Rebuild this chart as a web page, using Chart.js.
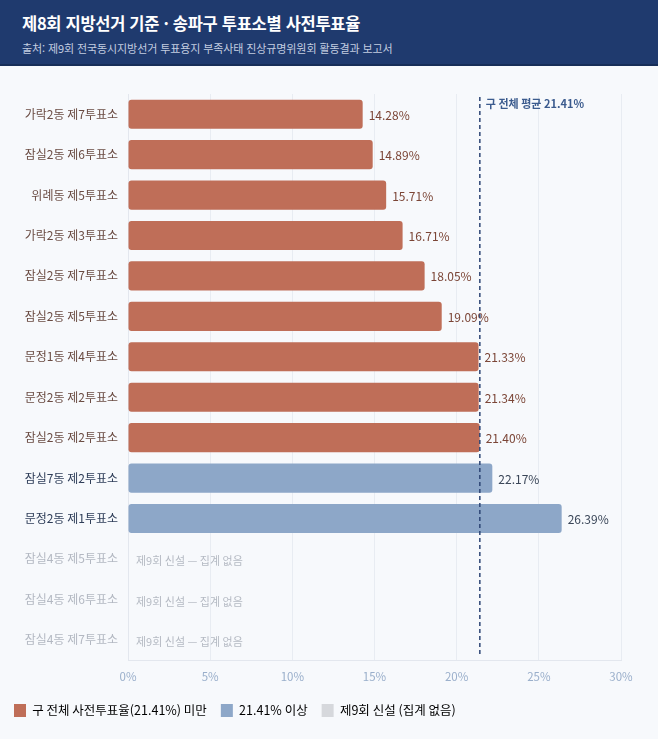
<!DOCTYPE html>
<html lang="ko">
<head>
<meta charset="utf-8">
<script src="https://cdn.jsdelivr.net/npm/chart.js@4"></script>
<style>
  html, body { margin: 0; padding: 0; }
  body {
    width: 658px; height: 739px; overflow: hidden;
    background: #f7f9fc;
    font-family: "Noto Sans CJK KR", "Noto Sans", sans-serif;
  }
  .head {
    height: 64px; background: #1f3a6e;
    border-bottom: 2px solid #172e58;
    position: relative;
  }
  .head h1 {
    position: absolute; left: 22px; top: 11px; margin: 0;
    font-size: 16.5px; font-weight: 700; color: #fff; letter-spacing: -0.3px;
  }
  .head p {
    position: absolute; left: 22px; top: 40px; margin: 0;
    font-size: 11px; color: #c3cde0; letter-spacing: -0.1px;
  }
  .wrap { position: absolute; left: 0; top: 66px; width: 658px; height: 673px; }
</style>
</head>
<body>
<div class="head">
  <h1>제8회 지방선거 기준 · 송파구 투표소별 사전투표율</h1>
  <p>출처: 제9회 전국동시지방선거 투표용지 부족사태 진상규명위원회 활동결과 보고서</p>
</div>
<div class="wrap"><canvas id="chart"></canvas></div>
<script>
// 투표소 목록 (위에서 아래 순서)
const stations = [
  '가락2동 제7투표소', '잠실2동 제6투표소', '위례동 제5투표소', '가락2동 제3투표소',
  '잠실2동 제7투표소', '잠실2동 제5투표소', '문정1동 제4투표소', '문정2동 제2투표소',
  '잠실2동 제2투표소', '잠실7동 제2투표소', '문정2동 제1투표소',
  '잠실4동 제5투표소', '잠실4동 제6투표소', '잠실4동 제7투표소'
];
// 사전투표율(%) — null = 제9회 신설, 집계 없음
const rates = [14.28, 14.89, 15.71, 16.71, 18.05, 19.09, 21.33, 21.34, 21.40, 22.17, 26.39, null, null, null];
const avgRate = 21.41;
const xTicks = [0, 5, 10, 15, 20, 25, 30];
const legendLabels = ['구 전체 사전투표율(21.41%) 미만', '21.41% 이상', '제9회 신설 (집계 없음)'];
const noDataText = '제9회 신설 — 집계 없음';
const avgText = '구 전체 평균 21.41%';

const RED = '#bf6e58', BLUE = '#8da7c8', GRAY = '#d6d8dc';
const FONT = '"Noto Sans CJK KR", "Noto Sans", sans-serif';

function groupOf(v) {
  if (v === null) return 2;
  return v < avgRate ? 0 : 1;
}
const barColors = rates.map(v => [RED, BLUE, GRAY][groupOf(v)]);
const labelColors = rates.map(v => ['#6a4b42', '#2e3d58', '#b3b8c2'][groupOf(v)]);

// 막대 끝 값 표시, 집계 없음 표시, 평균선
const overlay = {
  id: 'overlay',
  afterDatasetsDraw(chart) {
    const ctx = chart.ctx;
    const xs = chart.scales.x, ys = chart.scales.y;
    const area = chart.chartArea;
    const meta = chart.getDatasetMeta(0);
    ctx.save();
    ctx.textBaseline = 'middle';
    rates.forEach((v, i) => {
      const y = ys.getPixelForValue(i);
      if (v === null) {
        ctx.fillStyle = '#b5bac3';
        ctx.font = '11px ' + FONT;
        ctx.fillText(noDataText, xs.getPixelForValue(0) + 8, y + 2);
        return;
      }
      const bar = meta.data[i];
      ctx.font = '12px ' + FONT;
      ctx.fillStyle = groupOf(v) === 0 ? '#7b4536' : '#3a4658';
      ctx.fillText(v.toFixed(2) + '%', bar.x + 6, y + 1);
    });
    // 평균선
    const ax = xs.getPixelForValue(avgRate);
    ctx.strokeStyle = '#2c4474';
    ctx.lineWidth = 1.5;
    ctx.setLineDash([4, 3]);
    ctx.beginPath();
    ctx.moveTo(ax, area.top + 3);
    ctx.lineTo(ax, area.bottom - 3);
    ctx.stroke();
    ctx.setLineDash([]);
    ctx.fillStyle = '#3b5b8e';
    ctx.font = 'bold 11px ' + FONT;
    ctx.fillText(avgText, ax + 6, area.top + 10);
    ctx.restore();
  }
};

new Chart(document.getElementById('chart'), {
  type: 'bar',
  data: {
    labels: stations,
    datasets: [{
      data: rates,
      backgroundColor: barColors,
      borderRadius: 3,
      borderSkipped: false,
      barPercentage: 0.72,
      categoryPercentage: 1.0
    }]
  },
  options: {
    indexAxis: 'y',
    responsive: true,
    maintainAspectRatio: false,
    animation: false,
    layout: { padding: { top: 28, right: 37, left: 0, bottom: 12 } },
    scales: {
      x: {
        min: 0, max: 30,
        afterBuildTicks: s => { s.ticks = xTicks.map(v => ({ value: v })); },
        ticks: {
          callback: v => v + '%',
          color: '#9aafcb',
          font: { family: FONT, size: 11.5 },
          padding: 10
        },
        grid: { color: '#e8ecf2', drawTicks: false },
        border: { color: '#e3e7ee' },
        afterFit: s => { s.height = 30; }
      },
      y: {
        ticks: {
          color: c => labelColors[c.index],
          font: { family: FONT, size: 12 },
          padding: 10
        },
        grid: { display: false, drawTicks: false },
        border: { color: '#e3e7ee' },
        afterFit: s => { s.width = 128; }
      }
    },
    plugins: {
      tooltip: { enabled: false },
      legend: {
        position: 'bottom',
        align: 'start',
        labels: {
          boxWidth: 12,
          boxHeight: 13,
          padding: 14,
          color: '#333',
          font: { family: FONT, size: 12.5 },
          generateLabels: () => legendLabels.map((t, i) => ({
            text: t,
            fillStyle: [RED, BLUE, GRAY][i],
            strokeStyle: [RED, BLUE, GRAY][i],
            lineWidth: 0
          }))
        }
      }
    }
  },
  plugins: [overlay]
});
</script>
</body>
</html>
